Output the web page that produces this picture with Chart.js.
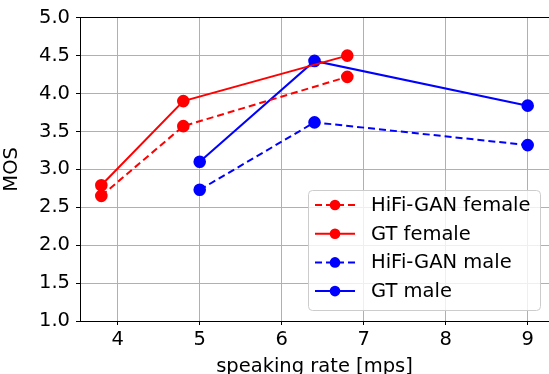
<!DOCTYPE html>
<html>
<head>
<meta charset="utf-8">
<script src="https://cdn.jsdelivr.net/npm/chart.js@4"></script>
<style>
  html, body { margin: 0; padding: 0; background: #fff; overflow: hidden; }
  #wrap { width: 549px; height: 374px; }
</style>
</head>
<body>
<div id="wrap"><canvas id="myChart" width="549" height="374"></canvas></div>
<script>
const seriesNames = ["HiFi-GAN female", "GT female", "HiFi-GAN male", "GT male"];
const femaleRates = [3.8, 4.8, 6.8];
const maleRates = [5.0, 6.4, 9.0];
const hifiganFemale = [2.65, 3.57, 4.22];
const gtFemale = [2.79, 3.90, 4.50];
const hifiganMale = [2.73, 3.62, 3.32];
const gtMale = [3.10, 4.43, 3.84];
const yTicks = [1.0, 1.5, 2.0, 2.5, 3.0, 3.5, 4.0, 4.5, 5.0];
const xTicks = [4, 5, 6, 7, 8, 9];

const FONT = "'DejaVu Sans', sans-serif";
const FS = 19.5;

function pts(xs, ys) {
  return xs.map((x, i) => ({ x: x, y: ys[i] }));
}

function makeSet(label, xs, ys, color, dashed) {
  return {
    label: label,
    data: pts(xs, ys),
    borderColor: color,
    backgroundColor: color,
    pointBackgroundColor: color,
    pointBorderColor: color,
    borderWidth: 2,
    borderDash: dashed ? [7, 4] : [],
    pointRadius: 5.3,
    pointHoverRadius: 5.3,
    tension: 0,
    fill: false,
    clip: false,
  };
}

const data = {
  datasets: [
    makeSet(seriesNames[0], femaleRates, hifiganFemale, "#ff0000", true),
    makeSet(seriesNames[1], femaleRates, gtFemale, "#ff0000", false),
    makeSet(seriesNames[2], maleRates, hifiganMale, "#0000ff", true),
    makeSet(seriesNames[3], maleRates, gtMale, "#0000ff", false),
  ],
};

// legend drawn inside the plot, matplotlib style
const innerLegend = {
  id: "innerLegend",
  afterDraw(chart) {
    const ctx = chart.ctx;
    const bx = 308, by = 190, bw = 232, bh = 120;
    ctx.save();
    ctx.globalAlpha = 0.8;
    ctx.fillStyle = "#ffffff";
    ctx.strokeStyle = "#cccccc";
    ctx.lineWidth = 1;
    ctx.beginPath();
    ctx.roundRect(bx + 0.5, by + 0.5, bw, bh, 4);
    ctx.fill();
    ctx.globalAlpha = 1;
    ctx.stroke();
    chart.data.datasets.forEach((ds, i) => {
      const cy = by + 15 + i * 28.7;
      ctx.strokeStyle = ds.borderColor;
      ctx.lineWidth = 2;
      ctx.setLineDash(ds.borderDash);
      ctx.beginPath();
      ctx.moveTo(315, cy);
      ctx.lineTo(355, cy);
      ctx.stroke();
      ctx.setLineDash([]);
      ctx.fillStyle = ds.borderColor;
      ctx.beginPath();
      ctx.arc(335, cy, 5.3, 0, Math.PI * 2);
      ctx.fill();
      ctx.fillStyle = "#000";
      ctx.font = FS + "px " + FONT;
      ctx.textBaseline = "middle";
      ctx.fillText(ds.label, 371, cy + 1);
    });
    ctx.restore();
  },
};

const options = {
  responsive: false,
  animation: false,
  layout: { autoPadding: false, padding: { top: 15, right: 0, left: 0, bottom: 0 } },
  plugins: {
    legend: { display: false },
    tooltip: { enabled: false },
  },
  scales: {
    x: {
      type: "linear",
      min: 3.54,
      max: 9.26,
      afterBuildTicks: (axis) => { axis.ticks = xTicks.map((v) => ({ value: v })); },
      afterFit: (axis) => { axis.height = 53; },
      ticks: {
        color: "#000",
        font: { family: FONT, size: FS },
        padding: 3,
        maxRotation: 0,
        callback: (v) => String(v),
      },
      grid: {
        color: "#b0b0b0",
        lineWidth: 1,
        tickColor: "#000",
        tickLength: 4,
      },
      border: { color: "#000", width: 1 },
      title: {
        display: true,
        text: "speaking rate [mps]",
        color: "#000",
        font: { family: FONT, size: FS },
        padding: { top: 0, bottom: -5 },
      },
    },
    y: {
      type: "linear",
      min: 1.0,
      max: 5.0,
      afterBuildTicks: (axis) => { axis.ticks = yTicks.map((v) => ({ value: v })); },
      afterFit: (axis) => { axis.width = 80; },
      ticks: {
        color: "#000",
        font: { family: FONT, size: FS },
        padding: 6,
        callback: (v) => Number(v).toFixed(1),
      },
      grid: {
        color: (c) => (c.tick && c.tick.value === 5 ? "#000" : "#b0b0b0"),
        lineWidth: 1,
        tickColor: "#000",
        tickLength: 4,
      },
      border: { color: "#000", width: 1 },
      title: {
        display: true,
        text: "MOS",
        color: "#000",
        font: { family: FONT, size: FS },
        padding: { top: 0, bottom: 2 },
      },
    },
  },
};

const myChart = new Chart(document.getElementById("myChart"), {
  type: "line",
  data: data,
  options: options,
  plugins: [innerLegend],
});
</script>
</body>
</html>
